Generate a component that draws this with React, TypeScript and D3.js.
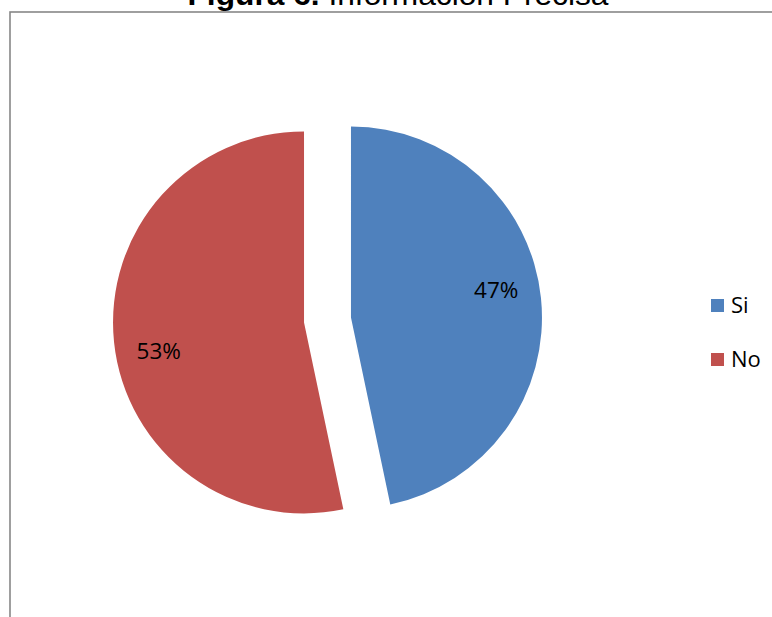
import React from "react";
import * as d3 from "d3";

const categories = ["Si", "No"];
const values = [46.7, 53.3];
const labels = ["47%", "53%"];
const colors = ["#4F81BD", "#C0504D"];
const titleBold = "Figura 6.";
const titleRest = " Información Precisa";

const W = 772;
const H = 617;
const CX = 327.5;
const CY = 320;
const R = 191;
const EXPLODE = 23.6;
const LABEL_R = 148;
const LABEL_SHIFT = (-5 * Math.PI) / 180;

export default function App() {
  const pie = d3
    .pie<number>()
    .sort(null)
    .value((d) => d)
    .startAngle(0)
    .endAngle(2 * Math.PI);
  const arcs = pie(values);
  const arc = d3.arc<d3.PieArcDatum<number>>().innerRadius(0).outerRadius(R);

  return (
    <svg
      width={W}
      height={H}
      style={{ position: "absolute", left: 0, top: 0, background: "#fff" }}
    >
      <rect x={0} y={0} width={W} height={H} fill="#fff" />
      <rect
        x={10}
        y={12}
        width={W + 20}
        height={H + 20}
        fill="none"
        stroke="#878787"
        strokeWidth={1.6}
      />
      <text
        x={398}
        y={4.5}
        textAnchor="middle"
        fontFamily="'Liberation Sans', Arial, sans-serif"
        fontSize={30}
        fill="#000"
        textLength={421}
        lengthAdjust="spacingAndGlyphs"
      >
        <tspan fontWeight="bold">{titleBold}</tspan>
        <tspan>{titleRest}</tspan>
      </text>
      {arcs.map((a, i) => {
        const mid = (a.startAngle + a.endAngle) / 2;
        const ox = CX + Math.sin(mid) * EXPLODE;
        const oy = CY - Math.cos(mid) * EXPLODE;
        const la = mid + LABEL_SHIFT;
        return (
          <g key={categories[i]} transform={`translate(${ox},${oy})`}>
            <path d={arc(a) || ""} fill={colors[i]} />
            <text
              x={Math.sin(la) * LABEL_R}
              y={-Math.cos(la) * LABEL_R}
              textAnchor="middle"
              dominantBaseline="central"
              fontFamily="'Open Sans', sans-serif"
              fontSize={22.5}
              fill="#000"
            >
              {labels[i]}
            </text>
          </g>
        );
      })}
      {categories.map((c, i) => (
        <g key={c} transform={`translate(711,${299 + i * 54})`}>
          <rect x={0} y={0} width={13} height={13} fill={colors[i]} />
          <text
            x={20}
            y={14}
            fontFamily="'Open Sans', sans-serif"
            fontSize={22}
            fill="#000"
          >
            {c}
          </text>
        </g>
      ))}
    </svg>
  );
}
